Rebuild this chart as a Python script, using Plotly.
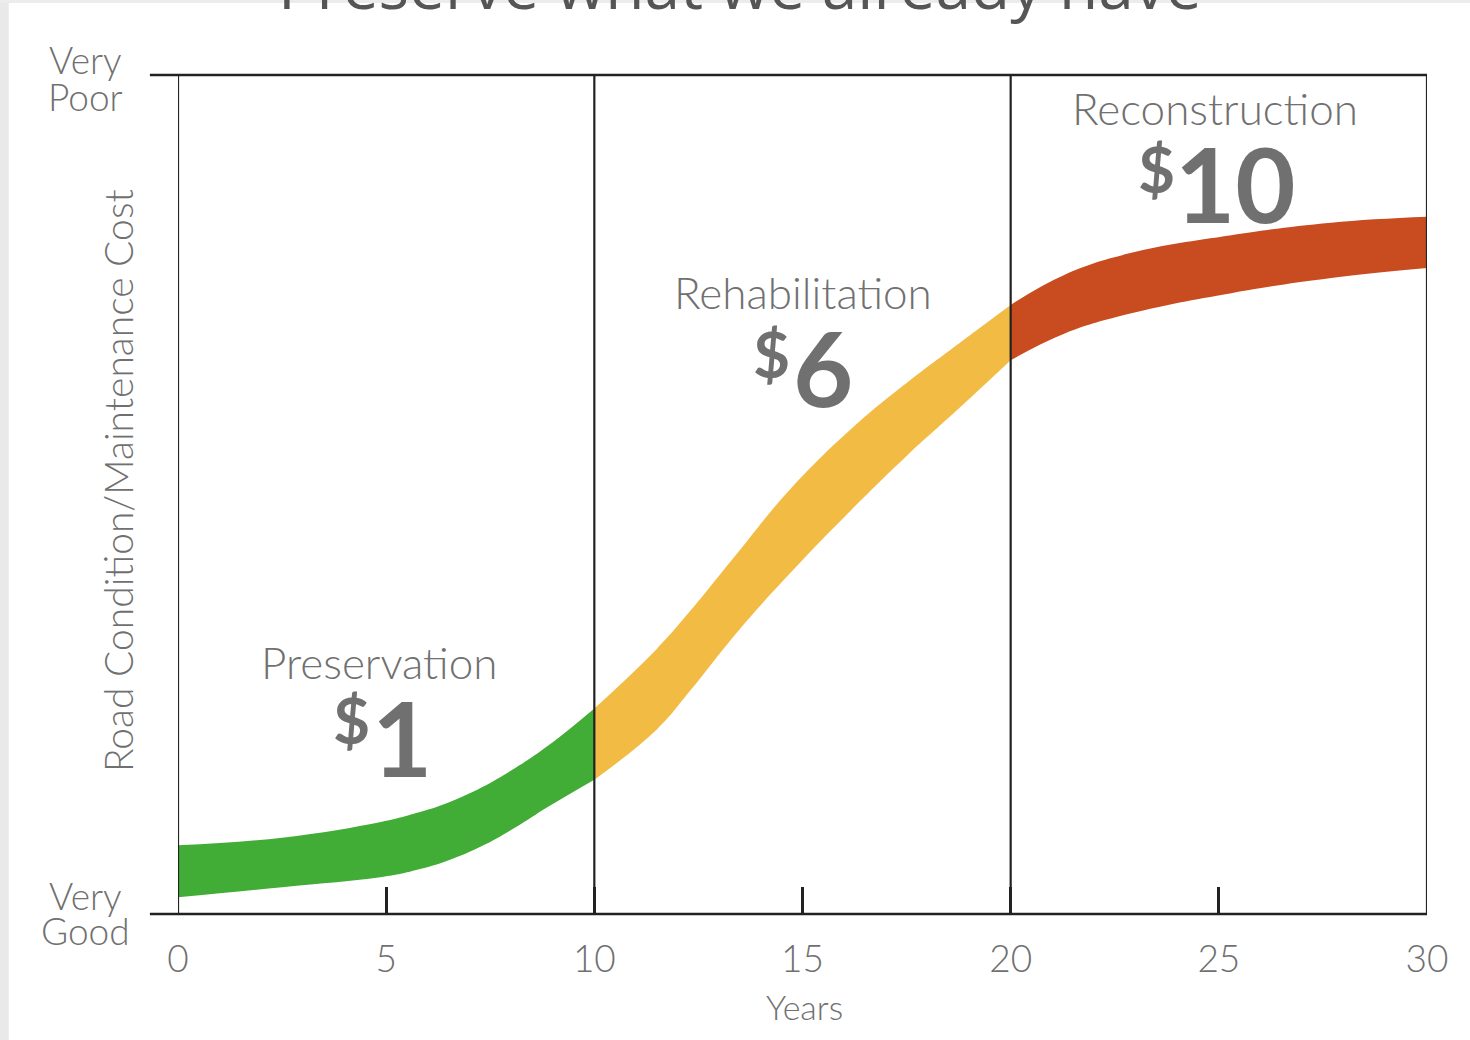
import plotly.graph_objects as go

# ---- data ----
stage_names = ["Preservation", "Rehabilitation", "Reconstruction"]
stage_costs = ["1", "6", "10"]
stage_bounds = [0, 10, 20, 30]
stage_colors = ["#41ad37", "#f2bb44", "#c84c1f"]

# band edges (condition index 0 = very good, 100 = very poor)
green_x = [0, 2.5, 4.9, 5.7, 6.5, 7.3, 8.1, 8.9, 10]
green_top = [8.2, 9.1, 11.0, 12.0, 13.3, 15.1, 17.4, 20.1, 24.5]
green_bot = [2.0, 3.2, 4.4, 5.2, 6.4, 8.1, 10.3, 12.8, 16.0]

yellow_x = [10, 11.5, 12.3, 13.4, 14.7, 16.3, 17.5, 18.7, 20]
yellow_top = [24.5, 31.6, 36.1, 42.8, 50.6, 58.4, 63.3, 67.8, 72.6]
yellow_bot = [16.0, 22.0, 26.6, 33.4, 40.6, 48.8, 54.6, 60.0, 66.0]

red_x = [20, 21.3, 22.9, 25.3, 27.7, 30]
red_top = [72.6, 76.2, 78.8, 80.9, 82.4, 83.1]
red_bot = [66.0, 69.2, 71.6, 74.0, 75.8, 77.0]

x_ticks = [0, 5, 10, 15, 20, 25, 30]
x_tick_labels = ["0", "5", "10", "15", "20", "25", "30"]

TEXT = "#707070"
LINE = "#222222"
FONT = "Lato"

fig = go.Figure()
segments = [(green_x, green_top, green_bot), (yellow_x, yellow_top, yellow_bot), (red_x, red_top, red_bot)]
for (xs, top, bot), col in zip(segments, stage_colors):
    fig.add_trace(go.Scatter(x=xs, y=bot, mode="lines",
                             line=dict(width=0, color=col, shape="spline", smoothing=1.2),
                             hoverinfo="skip", showlegend=False))
    fig.add_trace(go.Scatter(x=xs, y=top, mode="lines",
                             line=dict(width=0, color=col, shape="spline", smoothing=1.2),
                             fill="tonexty", fillcolor=col, hoverinfo="skip", showlegend=False))

shapes = []
# grey page strips (left and top)
shapes.append(dict(type="rect", xref="paper", yref="paper", x0=-0.1430, x1=-0.1355, y0=-0.16, y1=1.10,
                   fillcolor="#e9e9e9", line=dict(width=0), layer="below"))
shapes.append(dict(type="rect", xref="paper", yref="paper", x0=-0.1430, x1=1.04, y0=1.0858, y1=1.10,
                   fillcolor="#ececec", line=dict(width=0), layer="below"))
# stage boundary lines
for b in stage_bounds:
    shapes.append(dict(type="line", xref="x", yref="paper", x0=b, x1=b, y0=0, y1=1,
                       line=dict(color=LINE, width=2.2)))
# top and bottom lines, extended to the left
for yy in (0, 1):
    shapes.append(dict(type="line", xref="paper", yref="paper", x0=-0.0225, x1=1, y0=yy, y1=yy,
                       line=dict(color=LINE, width=2.6)))

annotations = []
light = dict(family=FONT, color=TEXT, weight=300)
# y extremes
for txt, yy in [("Very", 1.0179), ("Poor", 0.9738), ("Very", 0.0226), ("Good", -0.0191)]:
    annotations.append(dict(text=txt, xref="paper", yref="paper", x=-0.0737, y=yy, showarrow=False,
                            xanchor="center", yanchor="middle", font=dict(size=37, **light)))
# y title
annotations.append(dict(text="Road Condition/Maintenance Cost", xref="paper", yref="paper", x=-0.048, y=0.516,
                        textangle=-90, showarrow=False, xanchor="center", yanchor="middle",
                        font=dict(size=39, **light)))
# x title
annotations.append(dict(text="Years", xref="paper", yref="paper", x=0.502, y=-0.1097, showarrow=False,
                        xanchor="center", yanchor="middle", font=dict(size=34, **light)))
# stage labels: (label x, label y, "$" right edge x, digits left edge x, "$" y, digits y)
label_pos = [
    (0.1617, 0.3004, 0.1555, 0.1540, 0.232, 0.212),
    (0.5004, 0.7414, 0.4915, 0.4905, 0.668, 0.652),
    (0.8303, 0.9607, 0.8000, 0.7970, 0.888, 0.872),
]
for name, cost, (lx, ly, sx, nx, dy_, cy) in zip(stage_names, stage_costs, label_pos):
    annotations.append(dict(text=name, xref="paper", yref="paper", x=lx, y=ly, showarrow=False,
                            xanchor="center", yanchor="middle", font=dict(size=44, **light)))
    annotations.append(dict(text="<b>$</b>", xref="paper", yref="paper", x=sx, y=dy_,
                            showarrow=False, xanchor="right", yanchor="middle",
                            font=dict(family=FONT, size=64, color=TEXT)))
    annotations.append(dict(text="<b>" + cost + "</b>", xref="paper", yref="paper", x=nx, y=cy,
                            showarrow=False, xanchor="left", yanchor="middle",
                            font=dict(family=FONT, size=104, color=TEXT)))
# cut-off title at the top
annotations.append(dict(text="Preserve what we already have", xref="paper", yref="paper", x=0.45, y=1.108,
                        showarrow=False, xanchor="center", yanchor="middle",
                        font=dict(family="Open Sans", size=64, color="#555555")))

fig.update_layout(
    width=1470, height=1040,
    margin=dict(l=178, r=43, t=75, b=126),
    paper_bgcolor="white", plot_bgcolor="white",
    shapes=shapes, annotations=annotations,
    xaxis=dict(range=[0, 30], tickvals=x_ticks, ticktext=x_tick_labels, showgrid=False, zeroline=False,
               showline=False, ticks="inside", ticklen=27, tickwidth=2.5, tickcolor=LINE,
               ticklabelstandoff=20,
               tickfont=dict(size=37, **light), fixedrange=True),
    yaxis=dict(range=[0, 100], showticklabels=False, showgrid=False, zeroline=False, showline=False,
               ticks="", fixedrange=True),
    showlegend=False,
)

fig.write_html("out.html", config={"displayModeBar": False},
               post_script="document.body.style.margin='0px';document.body.style.overflow='hidden';")
